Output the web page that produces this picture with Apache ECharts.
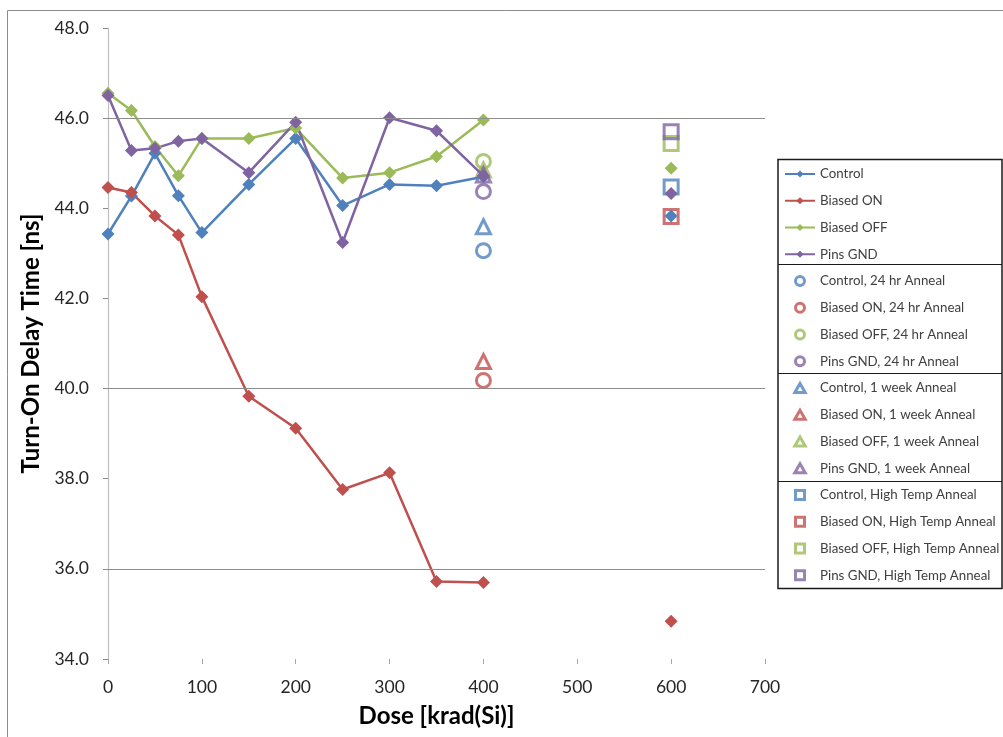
<!DOCTYPE html>
<html>
<head>
<meta charset="utf-8">
<script src="https://cdn.jsdelivr.net/npm/echarts@6/dist/echarts.min.js"></script>
<style>
html,body{margin:0;padding:0;background:#fff;}
#chart{width:1003px;height:737px;}
</style>
</head>
<body>
<div id="chart"></div>
<script>
// ---- data ----
const doseLine = [0, 25, 50, 75, 100, 150, 200, 250, 300, 350, 400];
const doseExtra = 600;
const doseAnneal = 400;
const doseHighTemp = 600;

const control   = [43.43, 44.27, 45.22, 44.28, 43.46, 44.53, 45.55, 44.06, 44.53, 44.50, 44.70];
const biasedOn  = [44.46, 44.35, 43.83, 43.41, 42.04, 39.83, 39.12, 37.76, 38.13, 35.72, 35.70];
const biasedOff = [46.55, 46.17, 45.37, 44.72, 45.55, 45.55, 45.78, 44.67, 44.79, 45.15, 45.96];
const pinsGnd   = [46.50, 45.28, 45.33, 45.49, 45.55, 44.79, 45.91, 43.24, 46.01, 45.72, 44.72];
// values at 600 (not connected to the lines)
const at600 = [43.83, 34.84, 44.89, 44.33];

const anneal24h   = [43.06, 40.18, 45.04, 44.37];
const anneal1wk   = [43.59, 40.60, 44.85, 44.74];
const annealHT    = [44.47, 43.82, 45.44, 45.70];

const groupNames = ['Control', 'Biased ON', 'Biased OFF', 'Pins GND'];
const yTicks = {min: 34, max: 48, step: 2};
const xTicks = {min: 0, max: 700, step: 100};
const visibleGridLines = [46, 40, 36];

const colors = ['#4F81BD', '#C0504D', '#9BBB59', '#8064A2'];
const font = 'Lato, "Open Sans", "Noto Sans", sans-serif';

const TRI_ICON = 'path://M5,0L10,8.66L0,8.66Z';
const SQ_ICON = 'path://M0,0L10,0L10,10L0,10Z';

// ---- build series ----
const lineSets = [control, biasedOn, biasedOff, pinsGnd];
const series = [];
const legendData = [];
lineSets.forEach((vals, i) => {
  const data = doseLine.map((d, k) => [d, vals[k]]);
  data.push(['-', '-']);
  data.push([doseExtra, at600[i]]);
  const s = {
    name: groupNames[i],
    type: 'line',
    data: data,
    connectNulls: false,
    symbol: 'diamond',
    symbolSize: 13,
    showAllSymbol: true,
    lineStyle: {color: colors[i], width: 2.5},
    itemStyle: {color: colors[i]},
    emphasis: {disabled: true},
    animation: false
  };
  if (i === 0) {
    s.markLine = {
      silent: true,
      symbol: 'none',
      animation: false,
      label: {show: false},
      lineStyle: {color: '#8C8C8C', width: 1.2, type: 'solid'},
      emphasis: {disabled: true},
      data: visibleGridLines.map(v => ({yAxis: v}))
    };
  }
  series.push(s);
  legendData.push({name: groupNames[i]});
});

function hollowSet(vals, dose, symbol, icon, suffix) {
  vals.forEach((v, i) => {
    const name = groupNames[i] + ', ' + suffix;
    series.push({
      name: name,
      type: 'scatter',
      data: [[dose, v]],
      symbol: symbol,
      symbolSize: 14,
      itemStyle: {color: 'rgba(255,255,255,0)', borderColor: colors[i], borderWidth: 3},
      emphasis: {disabled: true},
      animation: false
    });
    legendData.push({name: name, icon: icon,
      itemStyle: {color: 'rgba(255,255,255,0)', borderColor: colors[i], borderWidth: 3}});
  });
}
hollowSet(anneal24h, doseAnneal, 'circle', 'circle', '24 hr Anneal');
hollowSet(anneal1wk, doseAnneal, 'triangle', TRI_ICON, '1 week Anneal');
hollowSet(annealHT, doseHighTemp, 'rect', SQ_ICON, 'High Temp Anneal');

const chart = echarts.init(document.getElementById('chart'), null, {renderer: 'canvas'});
chart.setOption({
  backgroundColor: '#fff',
  animation: false,
  grid: {left: 108, right: 238, top: 28, bottom: 78, containLabel: false},
  xAxis: {
    type: 'value',
    min: xTicks.min, max: xTicks.max, interval: xTicks.step,
    name: 'Dose [krad(Si)]',
    nameLocation: 'middle',
    nameGap: 45,
    nameTextStyle: {fontFamily: font, fontSize: 24, fontWeight: 'bold', color: '#000'},
    axisLine: {show: false},
    axisTick: {show: true, length: 5, lineStyle: {color: '#A6A6A6', width: 1}},
    axisLabel: {fontFamily: font, fontSize: 17.5, color: '#262626', margin: 19},
    splitLine: {show: false}
  },
  yAxis: {
    type: 'value',
    min: yTicks.min, max: yTicks.max, interval: yTicks.step,
    name: 'Turn-On Delay Time [ns]',
    nameLocation: 'middle',
    nameGap: 58,
    nameTextStyle: {fontFamily: font, fontSize: 24, fontWeight: 'bold', color: '#000'},
    axisLine: {show: true, lineStyle: {color: '#BFBFBF', width: 1.2}},
    axisTick: {show: true, length: 5, lineStyle: {color: '#8C8C8C', width: 1}},
    axisLabel: {fontFamily: font, fontSize: 17.5, color: '#262626', margin: 19,
      formatter: v => v.toFixed(1)},
    splitLine: {show: false}
  },
  legend: {
    orient: 'vertical',
    left: 784,
    top: 167,
    padding: 0,
    itemWidth: 30,
    itemHeight: 9,
    itemGap: 12.75,
    selectedMode: false,
    symbolKeepAspect: true,
    data: legendData,
    textStyle: {fontFamily: font, fontSize: 13.3, color: '#404040', lineHeight: 14}
  },
  graphic: [
    {type: 'rect', silent: true, z: -10, shape: {x: 7.5, y: 10.5, width: 1100, height: 800},
      style: {fill: 'none', stroke: '#8C8C8C', lineWidth: 1}},
    {type: 'rect', silent: true, shape: {x: 778, y: 159.5, width: 224, height: 429},
      style: {fill: '#fff', stroke: '#1a1a1a', lineWidth: 1.5}, z: 0},
    {type: 'line', silent: true, shape: {x1: 778, y1: 264.5, x2: 1002, y2: 264.5},
      style: {stroke: '#1a1a1a', lineWidth: 1.2}},
    {type: 'line', silent: true, shape: {x1: 778, y1: 373.5, x2: 1002, y2: 373.5},
      style: {stroke: '#1a1a1a', lineWidth: 1.2}},
    {type: 'line', silent: true, shape: {x1: 778, y1: 481.5, x2: 1002, y2: 481.5},
      style: {stroke: '#1a1a1a', lineWidth: 1.2}}
  ],
  series: series
});
</script>
</body>
</html>
